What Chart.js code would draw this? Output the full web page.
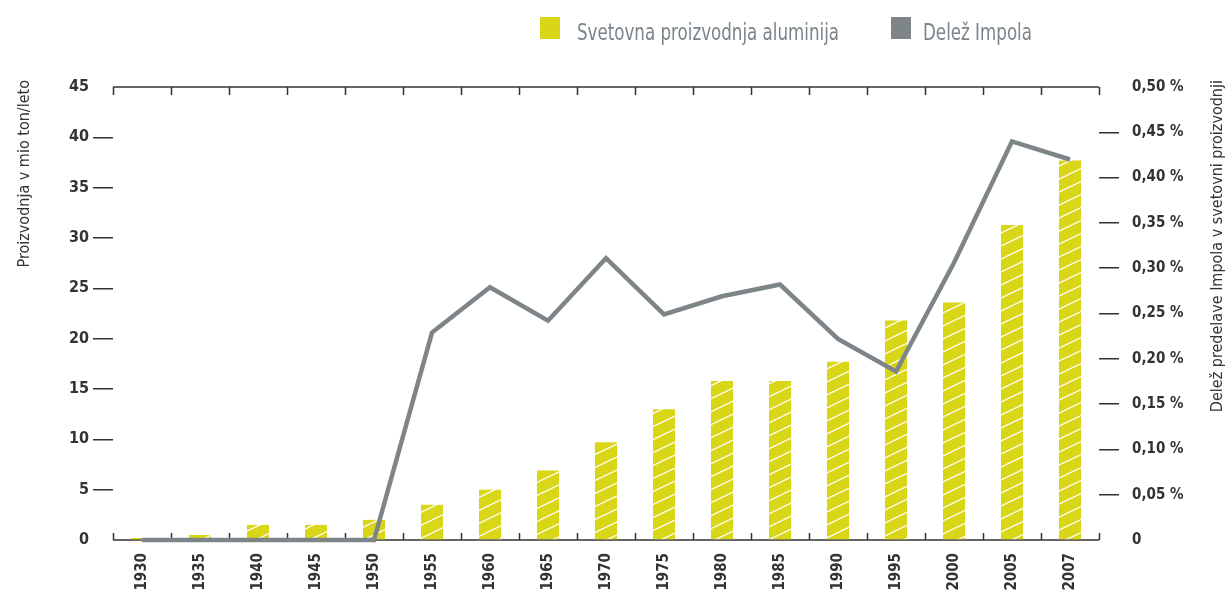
<!DOCTYPE html>
<html>
<head>
<meta charset="utf-8">
<script src="https://cdn.jsdelivr.net/npm/chart.js@4.4.0/dist/chart.umd.min.js"></script>
<style>
  body { margin: 0; background: #fff; }
</style>
</head>
<body>
<canvas id="chart" width="1229" height="594"></canvas>
<script>
// data
const years = ['1930', '1935', '1940', '1945', '1950', '1955', '1960', '1965', '1970',
               '1975', '1980', '1985', '1990', '1995', '2000', '2005', '2007'];
const production = [0.2, 0.5, 1.5, 1.5, 2.0, 3.5, 5.0, 6.9, 9.7, 13.0, 15.8, 15.8, 17.7, 21.8, 23.6, 31.3, 37.7];
const impolaShare = [0, 0, 0, 0, 0, 0.229, 0.279, 0.242, 0.311, 0.249, 0.269, 0.282, 0.222, 0.186, 0.306, 0.44, 0.42];
const seriesNames = ['Svetovna proizvodnja aluminija', 'Delež Impola'];
const leftTitle = 'Proizvodnja v mio ton/leto';
const rightTitle = 'Delež predelave Impola v svetovni proizvodnji';

const FONT = "'DejaVu Sans Condensed', 'DejaVu Sans', sans-serif";
const yellow = '#d8d617';
const grey = '#7e8588';
const ink = '#333333';

// yellow fill with thin white diagonal stripes
function makeHatch() {
    const w = 27, h = 13;
    const c = document.createElement('canvas');
    c.width = w; c.height = h;
    const g = c.getContext('2d');
    g.fillStyle = yellow;
    g.fillRect(0, 0, w, h);
    g.strokeStyle = '#ffffff';
    g.lineWidth = 1.2;
    for (let k = -1; k <= 1; k++) {
        g.beginPath();
        g.moveTo(0, h + h * k);
        g.lineTo(w, h * k);
        g.stroke();
    }
    return g.createPattern(c, 'repeat');
}

const ctx = document.getElementById('chart').getContext('2d');

// top/bottom frame lines with small ticks between categories
const framePlugin = {
    id: 'frame',
    beforeDatasetsDraw(chart) {
        const { ctx, chartArea: a, scales: { x } } = chart;
        const half = (x.getPixelForValue(1) - x.getPixelForValue(0)) / 2;
        ctx.save();
        ctx.strokeStyle = ink;
        ctx.lineWidth = 1.5;
        ctx.beginPath();
        ctx.moveTo(a.left, a.top);
        ctx.lineTo(a.right, a.top);
        ctx.moveTo(a.left, a.bottom);
        ctx.lineTo(a.right, a.bottom);
        for (let i = 0; i <= years.length; i++) {
            const px = Math.round(x.getPixelForValue(i) - half) + 0.5;
            ctx.moveTo(px, a.top);
            ctx.lineTo(px, a.top + 8);
            ctx.moveTo(px, a.bottom);
            ctx.lineTo(px, a.bottom - 7);
        }
        ctx.stroke();
        ctx.restore();
    },
    afterDraw(chart) {
        const { ctx } = chart;
        ctx.save();
        // axis titles, both reading bottom to top
        ctx.fillStyle = ink;
        ctx.font = '500 16px ' + FONT;
        ctx.textAlign = 'right';
        ctx.textBaseline = 'alphabetic';
        [[29, leftTitle], [1222, rightTitle]].forEach(([tx, txt]) => {
            ctx.save();
            ctx.translate(tx, 80);
            ctx.rotate(-Math.PI / 2);
            ctx.fillText(txt, 0, 0);
            ctx.restore();
        });
        // legend
        const ds = chart.data.datasets;
        const items = [
            { name: ds[1].label, color: yellow, box: 540, text: 577 },
            { name: ds[0].label, color: grey, box: 891, text: 923 }
        ];
        ctx.font = '23px ' + FONT;
        ctx.textAlign = 'left';
        const squeeze = 262 / ctx.measureText(items[0].name).width;
        items.forEach(it => {
            ctx.fillStyle = it.color;
            ctx.fillRect(it.box, 17, 20, 22);
            ctx.save();
            ctx.translate(it.text, 40);
            ctx.scale(squeeze, 1);
            ctx.fillStyle = '#7b848a';
            ctx.fillText(it.name, 0, 0);
            ctx.restore();
        });
        ctx.restore();
    }
};

const hideEnds = (c) => (c.index === 0 || c.index === c.chart.scales[c.scale.id].ticks.length - 1) ? 'rgba(0,0,0,0)' : ink;

new Chart(ctx, {
    data: {
        labels: years,
        datasets: [
            {
                type: 'line',
                label: seriesNames[1],
                data: impolaShare,
                yAxisID: 'y2',
                borderColor: grey,
                borderWidth: 4.5,
                pointRadius: 0,
                tension: 0,
                clip: false,
                order: 0
            },
            {
                type: 'bar',
                label: seriesNames[0],
                data: production,
                yAxisID: 'y',
                backgroundColor: makeHatch(),
                borderWidth: 0,
                barPercentage: 0.38,
                categoryPercentage: 1,
                order: 1
            }
        ]
    },
    options: {
        responsive: false,
        animation: false,
        layout: { padding: { top: 87, left: 0, right: 0, bottom: 0 } },
        plugins: {
            legend: { display: false },
            tooltip: { enabled: false }
        },
        scales: {
            x: {
                offset: true,
                grid: { display: false },
                border: { display: false },
                ticks: {
                    minRotation: 90, maxRotation: 90, padding: 5,
                    color: ink, font: { family: FONT, size: 15, weight: 'bold' }
                },
                afterFit: s => { s.height = 54; }
            },
            y: {
                position: 'left',
                min: 0, max: 45,
                ticks: {
                    stepSize: 5, padding: 4,
                    color: ink, font: { family: FONT, size: 16, weight: 'bold' }
                },
                grid: { drawOnChartArea: false, tickLength: 20, lineWidth: 1.5, color: hideEnds },
                border: { display: false },
                afterFit: s => { s.width = 113; }
            },
            y2: {
                position: 'right',
                min: 0, max: 0.5,
                ticks: {
                    stepSize: 0.05, padding: 13,
                    color: ink, font: { family: FONT, size: 15, weight: 'bold' },
                    callback: v => v === 0 ? '0' : v.toFixed(2).replace('.', ',') + ' %'
                },
                grid: { drawOnChartArea: false, tickLength: 20, lineWidth: 1.5, color: hideEnds },
                border: { display: false },
                afterFit: s => { s.width = 130; }
            }
        }
    },
    plugins: [framePlugin]
});
</script>
</body>
</html>
